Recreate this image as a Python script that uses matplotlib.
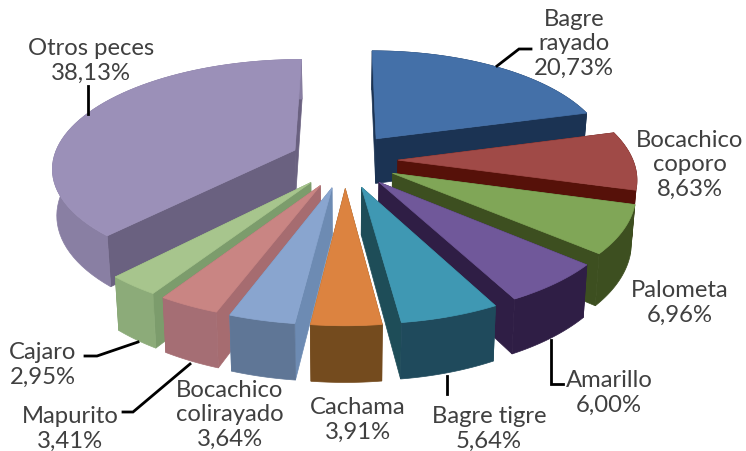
import numpy as np
import matplotlib
matplotlib.use("Agg")
import matplotlib.pyplot as plt
from matplotlib.patches import Polygon

categories = ["Bagre\nrayado", "Bocachico\ncoporo", "Palometa", "Amarillo", "Bagre tigre",
              "Cachama", "Bocachico\ncolirayado", "Mapurito", "Cajaro", "Otros peces"]
values = [20.73, 8.63, 6.96, 6.00, 5.64, 3.91, 3.64, 3.41, 2.95, 38.13]
top_colors = ["#4470a8", "#a04a47", "#80a657", "#70589a", "#3f98b3",
              "#dc8340", "#89a5cf", "#c98583", "#a7c58d", "#9b90b8"]
rim_colors = ["#1b3353", "#561109", "#3d4f20", "#2f1e45", "#1f4a5c",
              "#744b1e", "#5f7696", "#a56e74", "#8cab79", "#897fa3"]
wall_colors = ["#1b3353", "#561109", "#3d4f20", "#2f1e45", "#1e4d58",
               "#744b1e", "#6d8bb3", "#a66c70", "#7c9c6c", "#6a6180"]

X0, Y0 = 345, 161
RX, RY = 235, 107
EX, EY = 0.225, 0.257
P = 0.15
H = 46
LEFT = 1.03

plt.rcParams["font.family"] = ["Lato", "DejaVu Sans"]
fig = plt.figure(figsize=(7.46, 4.52), dpi=100)
ax = fig.add_axes([0, 0, 1, 1])
ax.set_xlim(0, 746)
ax.set_ylim(452, 0)
ax.axis("off")


def project(u, v, bottom=False):
    s = 1 / (1 + P * v)
    x = X0 + RX * u * s * np.where(np.asarray(u) < 0, LEFT, 1.0)
    y = Y0 - RY * v * s
    if bottom:
        x = X0 + (x - X0) * 0.985
        y = y + H * s
    return x, y


fr = np.array(values) / sum(values)
edges = np.concatenate([[0], np.cumsum(fr)]) * 2 * np.pi
slices = []
for i in range(len(values)):
    a0, a1 = edges[i], edges[i + 1]
    mid = (a0 + a1) / 2
    slices.append((np.cos(mid), i, a0, a1, mid))

# painter's order: far slices first
for _, i, a0, a1, mid in sorted(slices, reverse=True):
    ou, ov = EX * np.sin(mid), EY * np.cos(mid)
    ang = np.linspace(a0, a1, 60)
    u = ou + np.sin(ang)
    v = ov + np.cos(ang)
    tx, ty = project(u, v)
    bx, by = project(u, v, True)
    ax0, ay0 = project(ou, ov)
    bx0, by0 = project(ou, ov, True)
    # radial walls
    for k in (0, -1):
        ax.add_patch(Polygon([(ax0, ay0), (tx[k], ty[k]), (bx[k], by[k]), (bx0, by0)],
                             fc=wall_colors[i], ec=wall_colors[i], lw=0.5))
    # outer rim
    ax.add_patch(Polygon(np.column_stack([np.r_[tx, bx[::-1]], np.r_[ty, by[::-1]]]),
                         fc=rim_colors[i], ec=rim_colors[i], lw=0.5))
    # top face
    ax.add_patch(Polygon(np.column_stack([np.r_[ax0, tx], np.r_[ay0, ty]]),
                         fc=top_colors[i], ec=top_colors[i], lw=0.5))

label_pos = [(574, 44), (690, 165), (680, 303), (609, 393), (489, 429),
             (358, 420), (230, 415), (70, 429), (43, 365), (91, 61)]
for name, val, (lx, ly) in zip(categories, values, label_pos):
    txt = f"{name}\n{val:.2f}%".replace(".", ",")
    ax.text(lx, ly, txt, ha="center", va="center", fontsize=17.2, color="#404040",
            linespacing=1.22)

leaders = [
    ([497, 519, 531], [67, 50, 50]),
    ([88, 88], [115, 87]),
    ([138, 97, 85], [343, 357, 357]),
    ([190, 133, 123], [365, 413, 413]),
    ([551, 551, 563], [341, 385, 385]),
    ([447, 447], [377, 395]),
]
for lx, ly in leaders:
    ax.plot(lx, ly, color="black", lw=2, solid_joinstyle="miter", zorder=5)

fig.savefig("out.png", dpi=100)
